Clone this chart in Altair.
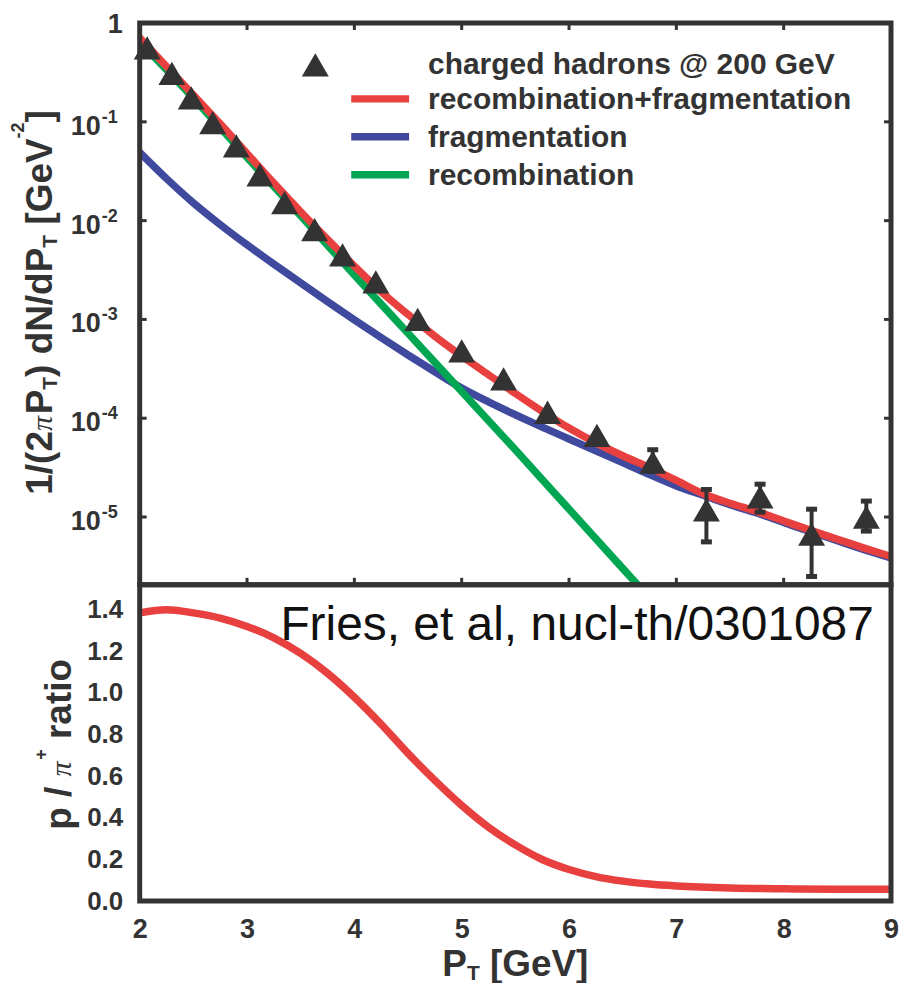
import altair as alt
import pandas as pd

# ---------------- data ----------------
# measured charged-hadron spectrum (triangles)
data_pt = [2.07, 2.30, 2.48, 2.68, 2.90, 3.12, 3.35, 3.63, 3.89, 4.20, 4.59, 5.00,
           5.39, 5.80, 6.26, 6.78, 7.28, 7.78, 8.26, 8.77]
data_y = [0.56, 0.31, 0.175, 0.098, 0.057, 0.029, 0.0152, 0.0081, 0.0045, 0.0024,
          0.00100, 0.00048, 0.00025, 0.000115, 6.7e-5, 3.6e-5, 1.18e-5, 1.6e-5,
          6.7e-6, 1.0e-5]
err_pt = [6.78, 7.28, 7.78, 8.26, 8.77]
err_lo = [2.9e-5, 5.6e-6, 1.12e-5, 2.5e-6, 7.2e-6]
err_hi = [4.8e-5, 1.9e-5, 2.15e-5, 1.2e-5, 1.45e-5]

# model curves, log10 of the yield
curve_pt = [2.0, 2.25, 2.5, 2.75, 3.0, 3.25, 3.5, 3.75, 4.0, 4.25, 4.5, 4.75, 5.0,
            5.25, 5.5, 5.75, 6.0, 6.25, 6.5, 6.75, 7.0, 7.25, 7.5, 7.75, 8.0, 8.25,
            8.5, 8.75, 9.0]
recfrag_log = [-0.15, -0.44, -0.73, -1.02, -1.32, -1.62, -1.91, -2.19, -2.46, -2.72,
               -2.95, -3.17, -3.37, -3.56, -3.75, -3.93, -4.10, -4.25, -4.38, -4.50,
               -4.63, -4.765, -4.86, -4.945, -5.04, -5.135, -5.225, -5.315, -5.40]
frag_log = [-1.31, -1.575, -1.82, -2.04, -2.245, -2.44, -2.63, -2.82, -3.005, -3.185,
            -3.36, -3.53, -3.695, -3.835, -3.965, -4.09, -4.21, -4.33, -4.45, -4.57,
            -4.685, -4.78, -4.875, -4.96, -5.055, -5.15, -5.24, -5.33, -5.415]
rec_pt = [2.0, 2.5, 3.0, 3.5, 4.0, 4.5, 5.0, 5.5, 6.0, 6.5, 6.7]
rec_log = [-0.19, -0.76, -1.36, -1.95, -2.55, -3.14, -3.73, -4.32, -4.92, -5.52, -5.76]

# p / pi+ ratio
ratio_pt = [2.0, 2.25, 2.5, 2.75, 3.0, 3.25, 3.5, 3.75, 4.0, 4.25, 4.5, 4.75, 5.0,
            5.25, 5.5, 5.75, 6.0, 6.25, 6.5, 6.75, 7.0, 7.5, 8.0, 8.5, 9.0]
ratio_val = [1.385, 1.40, 1.385, 1.36, 1.32, 1.265, 1.19, 1.095, 0.98, 0.85, 0.71,
             0.58, 0.46, 0.355, 0.27, 0.20, 0.152, 0.118, 0.096, 0.082, 0.073, 0.063,
             0.059, 0.057, 0.057]

legend_labels = ["charged hadrons @ 200 GeV", "recombination+fragmentation",
                 "fragmentation", "recombination"]
x_tick_values = [2, 3, 4, 5, 6, 7, 8, 9]
x_inner_ticks = [3, 4, 5, 6, 7, 8]
y_top_ticks = [1e-1, 1e-2, 1e-3, 1e-4, 1e-5]
y_top_sups = ["-1", "-2", "-3", "-4", "-5"]
y_bot_ticks = [0.0, 0.2, 0.4, 0.6, 0.8, 1.0, 1.2, 1.4]
annotation = "Fries, et al, nucl-th/0301087"
annotation_pos = (8.84, 1.254)

# ---------------- style ----------------
DARK = "#333333"
RED = "#E8403F"
BLUE = "#3F4A9E"
GREEN = "#00A651"
FONT = "Liberation Sans"
GREEK = "Liberation Serif"

W, H_TOP, H_BOT = 753, 563, 317
LW = 7.5

x_scale = alt.Scale(domain=[2, 9], nice=False, zero=False)
y_top = alt.Scale(type="log", domain=[2.06e-6, 1], nice=False)
y_bot = alt.Scale(domain=[0, 1.52], nice=False, zero=False)

ADV = {'0': 556, '1': 556, '2': 556, '3': 556, '4': 556, '5': 556, '6': 556,
       '7': 556, '8': 556, '9': 556, '/': 278, '(': 333, ')': 333, ' ': 278,
       'd': 611, 'N': 722, 'P': 667, '[': 333, ']': 333, 'G': 778, 'e': 556,
       'V': 667, 'T': 611, '-': 333, 'p': 611, 'r': 389, 'a': 556, 't': 333,
       'i': 278, 'o': 611, '+': 584, 'π': 560}

STY = {
    "main": dict(font=FONT, size=37, weight="bold", fstyle="normal", shift=0),
    "greek": dict(font=GREEK, size=30, weight="normal", fstyle="italic", shift=0),
    "sub": dict(font=FONT, size=21, weight="bold", fstyle="normal", shift=5),
    "sup": dict(font=FONT, size=18, weight="bold", fstyle="normal", shift=-28),
}


def adv(s, size):
    return sum(ADV.get(c, 556) for c in s) * size / 1000.0


def rich_text(pieces, cx, cy, vertical):
    """pieces: list of (text, kind, shift or None). Centered at (cx, cy)."""
    total = sum(adv(t, STY[k]["size"]) for t, k, _ in pieces)
    layers = []
    pos = (cy + total / 2.0) if vertical else (cx - total / 2.0)
    for txt, kind, sh in pieces:
        st = STY[kind]
        shift = st["shift"] if sh is None else sh
        lead = len(txt) - len(txt.lstrip(" "))
        step_lead = adv(" " * lead, st["size"])
        pos = pos - step_lead if vertical else pos + step_lead
        body = txt.strip(" ")
        if body:
            if vertical:
                xv, yv = cx + shift, pos
            else:
                xv, yv = pos, cy + shift
            layers.append(
                alt.Chart(pd.DataFrame({"t": [body]})).mark_text(
                    angle=270 if vertical else 0, align="left", baseline="alphabetic",
                    font=st["font"], fontSize=st["size"], fontWeight=st["weight"],
                    fontStyle=st["fstyle"], color=DARK
                ).encode(x=alt.value(xv), y=alt.value(yv), text="t:N")
            )
        rest = adv(txt.lstrip(" "), st["size"])
        pos = pos - rest if vertical else pos + rest
    return layers


def curve(pts, vals, color, yscale):
    df = pd.DataFrame({"pt": pts, "v": vals})
    return alt.Chart(df).mark_line(
        color=color, strokeWidth=LW, clip=True, interpolate="monotone", strokeCap="butt"
    ).encode(x=alt.X("pt:Q", scale=x_scale, axis=None),
             y=alt.Y("v:Q", scale=yscale, axis=None))


one = pd.DataFrame({"k": [0]})

# ---------------- top panel ----------------
top_layers = []
top_layers.append(curve(curve_pt, [10 ** v for v in frag_log], BLUE, y_top))
top_layers.append(curve(rec_pt, [10 ** v for v in rec_log], GREEN, y_top))
top_layers.append(curve(curve_pt, [10 ** v for v in recfrag_log], RED, y_top))

err_df = pd.DataFrame({"pt": err_pt, "lo": err_lo, "hi": err_hi})
top_layers.append(alt.Chart(err_df).mark_rule(color=DARK, strokeWidth=4).encode(
    x=alt.X("pt:Q", scale=x_scale, axis=None),
    y=alt.Y("lo:Q", scale=y_top, axis=None), y2="hi:Q"))
for col in ["lo", "hi"]:
    top_layers.append(alt.Chart(err_df).mark_point(
        shape="stroke", size=121, strokeWidth=5, color=DARK, filled=False, opacity=1
    ).encode(x=alt.X("pt:Q", scale=x_scale, axis=None),
             y=alt.Y(f"{col}:Q", scale=y_top, axis=None)))

pts_df = pd.DataFrame({"pt": data_pt, "v": data_y})
top_layers.append(alt.Chart(pts_df).mark_point(
    shape="triangle-up", filled=True, size=729, color=DARK, opacity=1
).encode(x=alt.X("pt:Q", scale=x_scale, axis=None),
         y=alt.Y("v:Q", scale=y_top, axis=None)))

# inner ticks
xt = pd.DataFrame({"pt": x_inner_ticks})
for y0, y1 in [(0, 7), (H_TOP - 7, H_TOP)]:
    top_layers.append(alt.Chart(xt).mark_rule(color=DARK, strokeWidth=3).encode(
        x=alt.X("pt:Q", scale=x_scale, axis=None), y=alt.value(y0), y2=alt.value(y1)))
yt = pd.DataFrame({"v": y_top_ticks})
for x0, x1 in [(0, 7), (W - 7, W)]:
    top_layers.append(alt.Chart(yt).mark_rule(color=DARK, strokeWidth=3).encode(
        y=alt.Y("v:Q", scale=y_top, axis=None), x=alt.value(x0), x2=alt.value(x1)))

# custom log tick labels
top_layers.append(alt.Chart(pd.DataFrame({"v": [1.0], "t": ["1"]})).mark_text(
    align="right", baseline="middle", font=FONT, fontSize=27, fontWeight="bold",
    color=DARK, dy=2).encode(x=alt.value(-17), y=alt.Y("v:Q", scale=y_top, axis=None),
                             text="t:N"))
lab_df = pd.DataFrame({"v": y_top_ticks, "b": ["10"] * len(y_top_ticks), "s": y_top_sups})
top_layers.append(alt.Chart(lab_df).mark_text(
    align="right", baseline="middle", font=FONT, fontSize=27, fontWeight="bold",
    color=DARK, dy=5).encode(x=alt.value(-39), y=alt.Y("v:Q", scale=y_top, axis=None),
                             text="b:N"))
top_layers.append(alt.Chart(lab_df).mark_text(
    align="left", baseline="middle", font=FONT, fontSize=18, fontWeight="bold",
    color=DARK, dy=-4).encode(x=alt.value(-38), y=alt.Y("v:Q", scale=y_top, axis=None),
                              text="s:N"))

# y title (rotated rich text)
top_title = [("1/(2", "main", None), ("π", "greek", None), ("P", "main", None),
             ("T", "sub", None), (") dN/dP", "main", None), ("T", "sub", None),
             (" [GeV", "main", None), ("-2", "sup", None), ("]", "main", None)]
top_layers += rich_text(top_title, -88, 280, True)

# legend
rows_y = [41, 76, 114, 152]
leg_colors = [None, RED, BLUE, GREEN]
for lab, ry, colr in zip(legend_labels, rows_y, leg_colors):
    if colr is None:
        top_layers.append(alt.Chart(one).mark_point(
            shape="triangle-up", filled=True, size=729, color=DARK, opacity=1
        ).encode(x=alt.value(176), y=alt.value(ry + 1)))
    else:
        top_layers.append(alt.Chart(one).mark_rule(color=colr, strokeWidth=LW).encode(
            x=alt.value(212), x2=alt.value(270), y=alt.value(ry)))
    top_layers.append(alt.Chart(pd.DataFrame({"t": [lab]})).mark_text(
        align="left", baseline="middle", font=FONT, fontSize=30, fontWeight="bold",
        color=DARK).encode(x=alt.value(289), y=alt.value(ry + 1), text="t:N"))

# frame
top_layers.append(alt.Chart(one).mark_rect(
    fillOpacity=0, stroke=DARK, strokeWidth=5).encode(
    x=alt.value(0), x2=alt.value(W), y=alt.value(0), y2=alt.value(H_TOP)))

top = alt.layer(*top_layers).properties(width=W, height=H_TOP)

# ---------------- bottom panel ----------------
x_axis = alt.Axis(values=x_tick_values, format="d", labelFont=FONT, labelFontSize=27,
                  labelFontWeight="bold", labelColor=DARK, labelPadding=15,
                  ticks=False, tickSize=0, domain=False, grid=False, title=None,
                  labelFlush=False)
y_axis = alt.Axis(values=y_bot_ticks, format=".1f", labelFont=FONT, labelFontSize=26,
                  labelFontWeight="bold", labelColor=DARK, labelPadding=17,
                  ticks=False, tickSize=0, domain=False, grid=False, title=None)

bot_layers = []
rdf = pd.DataFrame({"pt": ratio_pt, "v": ratio_val})
bot_layers.append(alt.Chart(rdf).mark_line(
    color=RED, strokeWidth=LW, clip=True, interpolate="monotone", strokeCap="butt"
).encode(x=alt.X("pt:Q", scale=x_scale, axis=x_axis),
         y=alt.Y("v:Q", scale=y_bot, axis=y_axis)))
adf = pd.DataFrame({"pt": [annotation_pos[0]], "v": [annotation_pos[1]], "t": [annotation]})
bot_layers.append(alt.Chart(adf).mark_text(
    align="right", baseline="alphabetic", font=FONT, fontSize=48, fontWeight="normal",
    color="#111111").encode(x=alt.X("pt:Q", scale=x_scale, axis=x_axis),
                            y=alt.Y("v:Q", scale=y_bot, axis=y_axis), text="t:N"))

bot_title = [("p / ", "main", None), ("π", "greek", None), ("+", "sup", -24),
             (" ratio", "main", None)]
bot_layers += rich_text(bot_title, -69, 160, True)

x_title = [("P", "main", None), ("T", "sub", 4), (" [GeV]", "main", None)]
bot_layers += rich_text(x_title, 376.5, 392, False)

bot_layers.append(alt.Chart(one).mark_rect(
    fillOpacity=0, stroke=DARK, strokeWidth=5).encode(
    x=alt.value(0), x2=alt.value(W), y=alt.value(0), y2=alt.value(H_BOT)))

bottom = alt.layer(*bot_layers).properties(width=W, height=H_BOT)

chart = alt.vconcat(top, bottom, spacing=0, bounds="flush").resolve_scale(
    x="independent", y="independent"
).properties(
    padding={"left": 10, "top": 10, "right": 0, "bottom": 0},
    background="white"
).configure_view(strokeWidth=0)

chart.save("out.html", embed_options={"renderer": "svg", "actions": False})
